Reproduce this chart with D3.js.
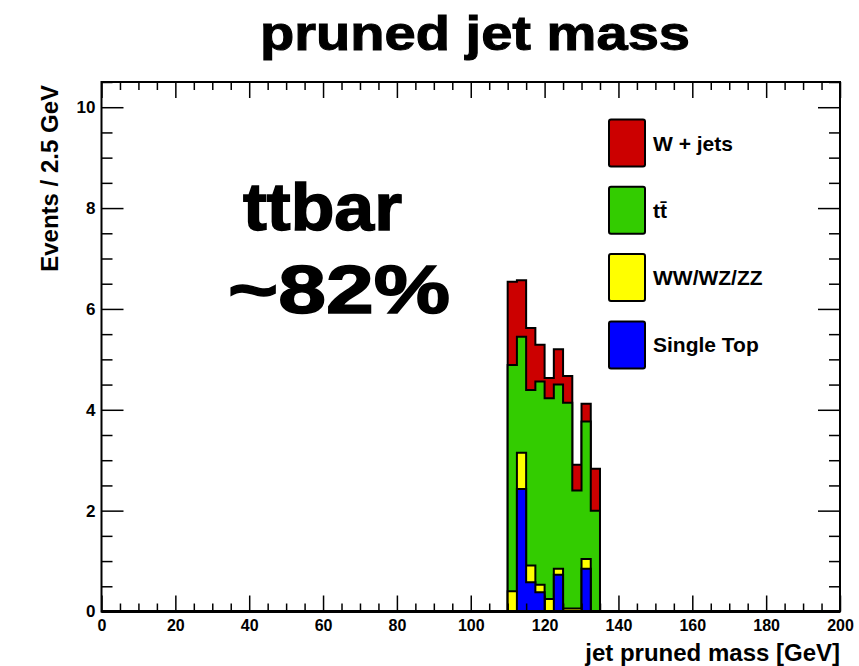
<!DOCTYPE html>
<html>
<head>
<meta charset="utf-8">
<script src="https://cdn.jsdelivr.net/npm/d3@7"></script>
<style>
  body { margin: 0; background: #fff; }
  svg text { font-family: "Liberation Sans", Arial, Helvetica, sans-serif; font-weight: bold; }
</style>
</head>
<body>
<div id="chart"></div>
<script>
// bins of 2.5 GeV, only the filled range (everything else is empty)
const binEdges = [110, 112.5, 115, 117.5, 120, 122.5, 125, 127.5, 130, 132.5, 135];
const singleTop = [0, 2.43, 0.58, 0.38, 0, 0.73, 0, 0, 0.85, 0];
const diboson = [0.40, 0.72, 0.33, 0.15, 0.25, 0.12, 0.06, 0.06, 0.19, 0];
const ttbar = [4.49, 2.30, 3.48, 4.03, 3.98, 3.65, 4.08, 2.34, 2.73, 2.00];
const wjets = [1.65, 1.12, 1.23, 0.73, 0.40, 0.70, 0.53, 0.51, 0.35, 0.83];

const xMajorTicks = [0, 20, 40, 60, 80, 100, 120, 140, 160, 180, 200];
const yMajorTicks = [0, 2, 4, 6, 8, 10];

const series = [
  {key: 'singleTop', label: 'Single Top', color: '#0000ff', values: singleTop},
  {key: 'diboson', label: 'WW/WZ/ZZ', color: '#ffff00', values: diboson},
  {key: 'ttbar', label: 'tt\u0304', color: '#33cc00', values: ttbar},
  {key: 'wjets', label: 'W + jets', color: '#cc0000', values: wjets}
];

const width = 859, height = 666;
const margin = {top: 82, right: 19, bottom: 54.5, left: 101.5};

const svg = d3.select('#chart').append('svg')
  .attr('width', width)
  .attr('height', height);

const x = d3.scaleLinear().domain([0, 200]).range([margin.left, width - margin.right]);
const y = d3.scaleLinear().domain([0, 10.5]).range([height - margin.bottom, margin.top]);

// stacked table, one row per bin
const rows = binEdges.slice(0, -1).map((e, i) => {
  const r = {x0: e};
  series.forEach(s => { r[s.key] = s.values[i]; });
  return r;
});
const stacked = d3.stack().keys(series.map(s => s.key))(rows);

const area = d3.area()
  .curve(d3.curveStepAfter)
  .x(d => x(d.x))
  .y0(y(0))
  .y1(d => y(d.v));

// ROOT style: draw cumulative histograms, total first
stacked.slice().reverse().forEach(layer => {
  const s = series.find(d => d.key === layer.key);
  const pts = layer.map((d, i) => ({x: binEdges[i], v: d[1]}));
  pts.push({x: binEdges[binEdges.length - 1], v: pts[pts.length - 1].v});
  svg.append('path')
    .attr('d', area(pts))
    .attr('fill', s.color)
    .attr('stroke', '#000')
    .attr('stroke-width', 2);
});

// axes and ticks
const xMinor = d3.range(0, 201, 5).filter(v => v % 20 !== 0);
const yMinor = d3.range(0, 10.51, 0.5).filter(v => v % 2 !== 0);

function clean(g) {
  g.select('.domain').remove();
  g.selectAll('line').attr('stroke', '#000').attr('stroke-width', 1.5);
}

svg.append('g')
  .attr('transform', `translate(0,${y(0)})`)
  .call(d3.axisBottom(x).tickValues(xMajorTicks).tickSize(-16).tickPadding(8.5).tickFormat(d3.format('d')))
  .call(clean)
  .selectAll('text').attr('font-size', 16).attr('fill', '#000');
svg.append('g')
  .attr('transform', `translate(0,${y(0)})`)
  .call(d3.axisBottom(x).tickValues(xMinor).tickSize(-8).tickFormat(''))
  .call(clean);
svg.append('g')
  .attr('transform', `translate(0,${margin.top})`)
  .call(d3.axisTop(x).tickValues(xMajorTicks).tickSize(-16).tickFormat(''))
  .call(clean);
svg.append('g')
  .attr('transform', `translate(0,${margin.top})`)
  .call(d3.axisTop(x).tickValues(xMinor).tickSize(-8).tickFormat(''))
  .call(clean);

svg.append('g')
  .attr('transform', `translate(${margin.left},0)`)
  .call(d3.axisLeft(y).tickValues(yMajorTicks).tickSize(-22).tickPadding(6).tickFormat(d3.format('d')))
  .call(clean)
  .selectAll('text').attr('font-size', 17).attr('fill', '#000');
svg.append('g')
  .attr('transform', `translate(${margin.left},0)`)
  .call(d3.axisLeft(y).tickValues(yMinor).tickSize(-11).tickFormat(''))
  .call(clean);
svg.append('g')
  .attr('transform', `translate(${width - margin.right},0)`)
  .call(d3.axisRight(y).tickValues(yMajorTicks).tickSize(-22).tickFormat(''))
  .call(clean);
svg.append('g')
  .attr('transform', `translate(${width - margin.right},0)`)
  .call(d3.axisRight(y).tickValues(yMinor).tickSize(-11).tickFormat(''))
  .call(clean);

// frame
svg.append('rect')
  .attr('x', x(0)).attr('y', y(10.5))
  .attr('width', x(200) - x(0)).attr('height', y(0) - y(10.5))
  .attr('fill', 'none').attr('stroke', '#000').attr('stroke-width', 2);
svg.append('line')
  .attr('x1', x(0)).attr('x2', x(200)).attr('y1', y(0)).attr('y2', y(0))
  .attr('stroke', '#000').attr('stroke-width', 3);

// axis titles
svg.append('text')
  .attr('x', x(200)).attr('y', 661)
  .attr('text-anchor', 'end')
  .attr('font-size', 24)
  .text('jet pruned mass [GeV]');
svg.append('text')
  .attr('transform', `translate(57.5,${margin.top + 3}) rotate(-90)`)
  .attr('text-anchor', 'end')
  .attr('font-size', 24)
  .text('Events / 2.5 GeV');

// title
svg.append('text')
  .attr('x', 260).attr('y', 50)
  .attr('font-family', '"DejaVu Sans", Verdana, sans-serif')
  .attr('font-size', 48)
  .attr('textLength', 430).attr('lengthAdjust', 'spacingAndGlyphs')
  .attr('stroke', '#000').attr('stroke-width', 1)
  .text('pruned jet mass');

// annotation
svg.append('text')
  .attr('x', 243).attr('y', 230)
  .attr('font-family', '"DejaVu Sans", Verdana, sans-serif')
  .attr('font-size', 67)
  .attr('textLength', 159).attr('lengthAdjust', 'spacingAndGlyphs')
  .attr('stroke', '#000').attr('stroke-width', 1.5)
  .text('ttbar');
svg.append('text')
  .attr('x', 228).attr('y', 313)
  .attr('font-family', '"DejaVu Sans", Verdana, sans-serif')
  .attr('font-size', 68)
  .attr('textLength', 222).attr('lengthAdjust', 'spacingAndGlyphs')
  .attr('stroke', '#000').attr('stroke-width', 1.5)
  .text('~82%');

// legend, top entry is the last series
const legend = svg.append('g').attr('transform', 'translate(609,119.5)');
const entries = series.slice().reverse();
const rowH = 67.3;
const item = legend.selectAll('g').data(entries).enter().append('g')
  .attr('transform', (d, i) => `translate(0,${i * rowH})`);
item.append('rect')
  .attr('width', 36).attr('height', 47).attr('rx', 2)
  .attr('fill', d => d.color)
  .attr('stroke', '#000').attr('stroke-width', 2);
item.append('text')
  .attr('x', 44).attr('y', 31)
  .attr('font-size', 21)
  .text(d => d.label);
</script>
</body>
</html>
